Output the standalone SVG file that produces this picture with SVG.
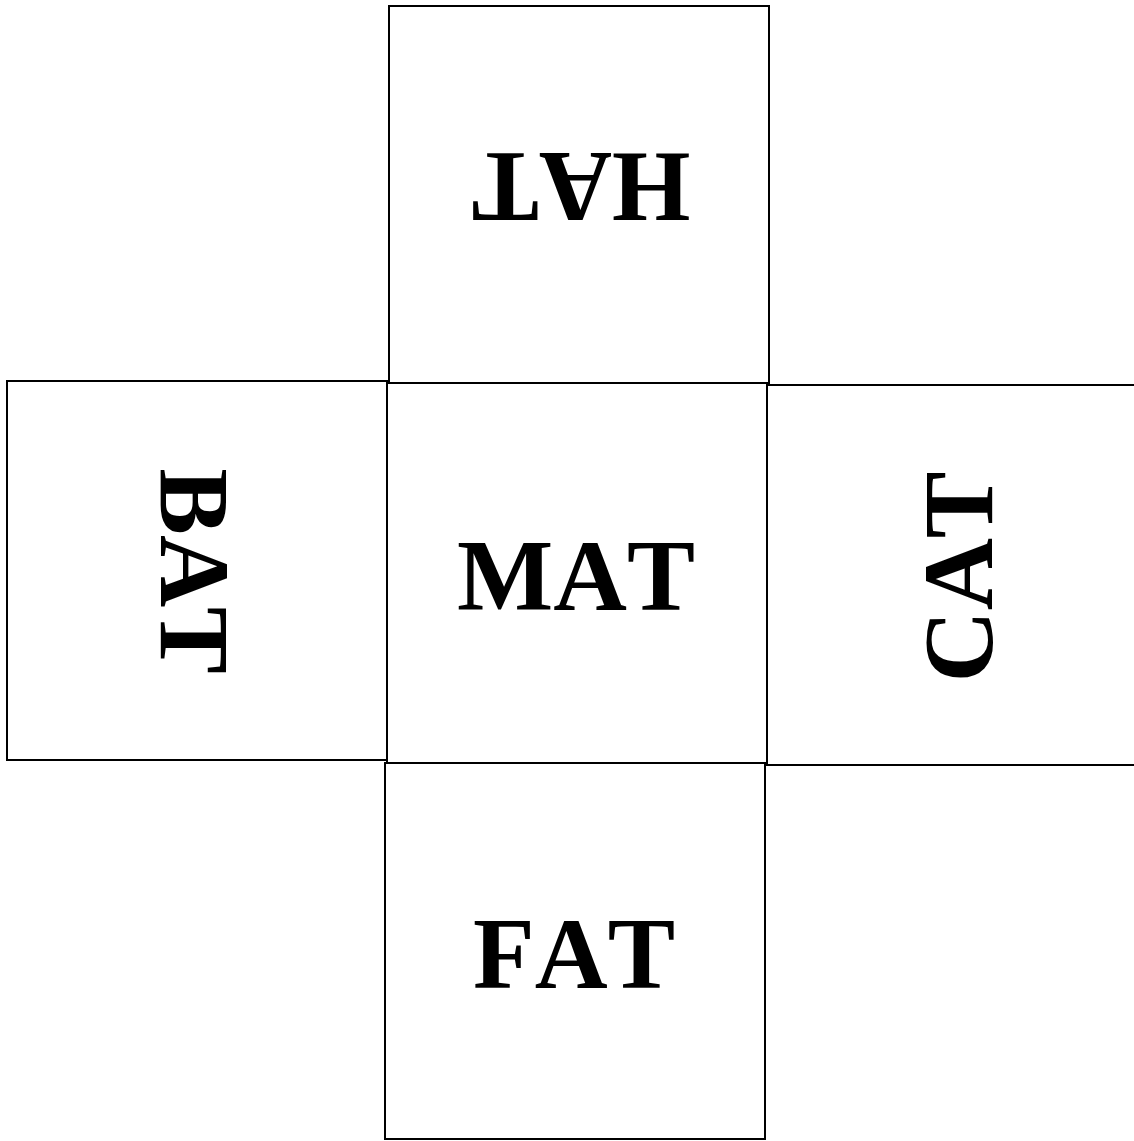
<svg xmlns="http://www.w3.org/2000/svg" width="1134" height="1141" viewBox="0 0 1134 1141">
<style>
.box{fill:none;stroke:#000;stroke-width:2}
.w{font-family:"Liberation Serif","Times New Roman",serif;font-weight:bold;font-size:101px;fill:#000;text-anchor:middle;font-kerning:none;font-feature-settings:"kern" 0}
</style>
<rect width="1134" height="1141" fill="#fff"/>
<g id="node-hat">
<rect class="box" x="389" y="6" width="380" height="377"/>
<text class="w" transform="translate(581,153) rotate(180)">HAT</text>
</g>
<g id="node-bat">
<rect class="box" x="7" y="381" width="380" height="379"/>
<text class="w" transform="translate(161,571) rotate(90)" style="font-size:100px">BAT</text>
</g>
<g id="node-mat">
<rect class="box" x="387" y="383" width="380" height="380"/>
<text class="w" x="576" y="610" style="font-size:102px">MAT</text>
</g>
<g id="node-cat">
<rect class="box" x="767" y="385" width="400" height="380"/>
<text class="w" transform="translate(992,577) rotate(-90)" style="font-size:100px">CAT</text>
</g>
<g id="node-fat">
<rect class="box" x="385" y="763" width="380" height="376"/>
<text class="w" x="574" y="988">FAT</text>
</g>
<g id="connectors"/>
</svg>
